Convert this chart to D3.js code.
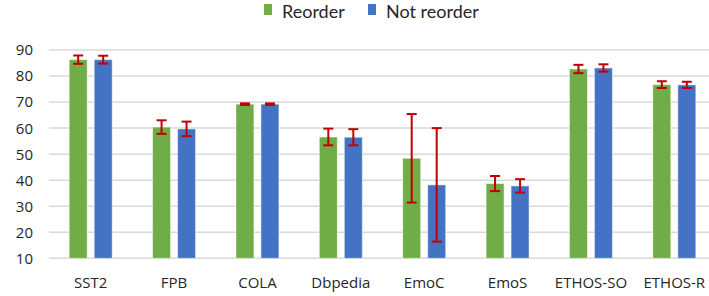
<!DOCTYPE html>
<html>
<head>
<meta charset="utf-8">
<script src="https://cdn.jsdelivr.net/npm/d3@7"></script>
<style>
  body { margin: 0; background: #fff; }
  text { font-family: "Open Sans", sans-serif; fill: #262626; }
</style>
</head>
<body>
<div id="chart"></div>
<script>
// data
var categories = ["SST2", "FPB", "COLA", "Dbpedia", "EmoC", "EmoS", "ETHOS-SO", "ETHOS-R"];
var seriesNames = ["Reorder", "Not reorder"];
var reorder    = [86.3, 60.4, 69.2, 56.6, 48.4, 38.7, 82.7, 76.7];
var reorderErr = [1.6, 2.6, 0.3, 3.2, 17.0, 2.9, 1.6, 1.3];
var notReorder    = [86.3, 59.7, 69.2, 56.5, 38.2, 37.8, 83.1, 76.6];
var notReorderErr = [1.5, 2.8, 0.3, 3.1, 21.8, 2.6, 1.4, 1.2];
var yTicks = [10, 20, 30, 40, 50, 60, 70, 80, 90];
var colors = ["#70ad47", "#4472c4"];

var width = 709, height = 296;
var svg = d3.select("#chart").append("svg")
    .attr("width", width)
    .attr("height", height);

var x = d3.scaleBand()
    .domain(categories)
    .range([49, 716]);

var xs = d3.scaleBand()
    .domain(seriesNames)
    .range([x.bandwidth() / 2 - 21.5, x.bandwidth() / 2 + 21.5])
    .paddingInner(0.28);

var y = d3.scaleLinear()
    .domain([10, 90])
    .range([258.3, 50]);

// gridlines
svg.append("g")
    .selectAll("line")
    .data(yTicks)
    .join("line")
    .attr("x1", 49)
    .attr("x2", width)
    .attr("y1", d => y(d))
    .attr("y2", d => y(d))
    .attr("stroke", "#d9d9d9")
    .attr("stroke-width", 1.5);

// y axis labels
svg.append("g")
    .selectAll("text")
    .data(yTicks)
    .join("text")
    .attr("x", 33)
    .attr("y", d => y(d))
    .attr("dy", "0.36em")
    .attr("text-anchor", "end")
    .style("font-size", "15px")
    .text(d => d);

// x labels
svg.append("g")
    .selectAll("text")
    .data(categories)
    .join("text")
    .attr("x", d => x(d) + x.bandwidth() / 2)
    .attr("y", 288)
    .attr("text-anchor", "middle")
    .style("font-size", "15px")
    .text(d => d);

var rows = [];
categories.forEach(function(c, i) {
    rows.push({cat: c, s: seriesNames[0], v: reorder[i], e: reorderErr[i], col: colors[0]});
    rows.push({cat: c, s: seriesNames[1], v: notReorder[i], e: notReorderErr[i], col: colors[1]});
});

// bars
svg.append("g")
    .selectAll("rect")
    .data(rows)
    .join("rect")
    .attr("x", d => x(d.cat) + xs(d.s))
    .attr("width", xs.bandwidth())
    .attr("y", d => y(d.v))
    .attr("height", d => y(10) - y(d.v))
    .attr("fill", d => d.col)
    .attr("stroke", "#ffffff")
    .attr("stroke-opacity", 0.5)
    .attr("stroke-width", 1);

// error bars
var eg = svg.append("g")
    .attr("stroke", "#c00000")
    .attr("stroke-width", 2);

eg.selectAll("line.v")
    .data(rows)
    .join("line")
    .attr("class", "v")
    .attr("x1", d => x(d.cat) + xs(d.s) + xs.bandwidth() / 2)
    .attr("x2", d => x(d.cat) + xs(d.s) + xs.bandwidth() / 2)
    .attr("y1", d => y(d.v + d.e))
    .attr("y2", d => y(d.v - d.e));

eg.selectAll("line.t")
    .data(rows)
    .join("line")
    .attr("class", "t")
    .attr("x1", d => x(d.cat) + xs(d.s) + xs.bandwidth() / 2 - 5)
    .attr("x2", d => x(d.cat) + xs(d.s) + xs.bandwidth() / 2 + 5)
    .attr("y1", d => y(d.v + d.e))
    .attr("y2", d => y(d.v + d.e));

eg.selectAll("line.b")
    .data(rows)
    .join("line")
    .attr("class", "b")
    .attr("x1", d => x(d.cat) + xs(d.s) + xs.bandwidth() / 2 - 5)
    .attr("x2", d => x(d.cat) + xs(d.s) + xs.bandwidth() / 2 + 5)
    .attr("y1", d => y(d.v - d.e))
    .attr("y2", d => y(d.v - d.e));

// legend
var legendX = [264, 368];
var lg = svg.append("g");
seriesNames.forEach(function(name, i) {
    lg.append("rect")
        .attr("x", legendX[i])
        .attr("y", 4)
        .attr("width", 8)
        .attr("height", 11)
        .attr("fill", colors[i]);
    lg.append("text")
        .attr("x", legendX[i] + 18)
        .attr("y", 18)
        .style("font-family", "Lato, sans-serif")
        .style("font-size", "18px")
        .text(name);
});
</script>
</body>
</html>
